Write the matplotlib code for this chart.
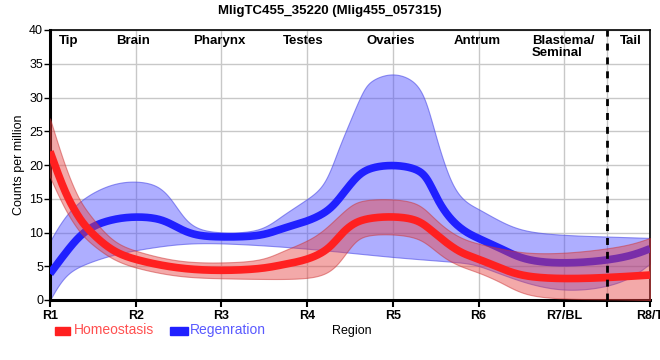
import numpy as np
import matplotlib.pyplot as plt
import matplotlib as mpl
from matplotlib.patches import Rectangle

mpl.rcParams['font.family'] = ['Liberation Sans', 'DejaVu Sans']

# region axis
regions = [1, 2, 3, 4, 5, 6, 7, 8]
tick_labels = ['R1', 'R2', 'R3', 'R4', 'R5', 'R6', 'R7/BL', 'R8/T']
part_names = ['Tip', 'Brain', 'Pharynx', 'Testes', 'Ovaries', 'Antrum', 'Blastema/\nSeminal', 'Tail']
part_pos = [1.22, 1.97, 2.98, 3.95, 4.98, 5.98, 6.62, 7.78]

# values (position along regions, counts per million)
homeo_x = [1, 1.175, 1.33, 1.45, 1.72, 2, 2.5, 3, 3.47, 3.7, 4, 4.25, 4.4, 4.56, 4.75, 5, 5.29, 5.45, 5.61, 5.8, 6, 6.27, 6.54, 7, 7.5, 8]
homeo = [22.0, 15.8, 12.3, 10.3, 7.2, 5.9, 4.6, 4.3, 4.6, 5.2, 5.9, 7.4, 9.9, 11.6, 12.2, 12.4, 12.0, 10.3, 8.6, 6.9, 6.1, 4.6, 3.4, 3.1, 3.3, 3.7]
homeo_hi_x = [1, 1.175, 1.33, 1.45, 1.72, 2, 2.5, 3, 3.47, 3.7, 4, 4.21, 4.48, 4.64, 5, 5.29, 5.45, 5.61, 5.8, 6, 6.27, 6.54, 7, 7.5, 7.8, 8]
homeo_hi = [26.9, 19.7, 15.0, 12.8, 8.6, 7.2, 5.6, 5.5, 5.8, 7.2, 8.7, 10.4, 13.9, 14.9, 15.0, 14.5, 12.5, 10.6, 9.1, 8.3, 7.6, 6.9, 6.9, 7.6, 8.3, 9.2]
homeo_lo_x = [1, 1.175, 1.33, 1.45, 1.72, 2, 2.5, 3, 3.5, 4, 4.25, 4.4, 4.56, 4.71, 5, 5.29, 5.45, 5.61, 5.8, 6, 6.27, 6.54, 7, 7.5, 8]
homeo_lo = [18.2, 13.3, 10.3, 8.6, 6.0, 4.7, 3.4, 3.2, 3.1, 3.1, 3.9, 5.9, 8.9, 9.7, 9.8, 9.3, 7.8, 6.1, 4.9, 4.1, 2.6, 0.6, 0.15, 0.1, 0.0]

regen_x = [1, 1.175, 1.41, 1.72, 2, 2.3, 2.5, 2.7, 3, 3.47, 3.7, 4, 4.25, 4.4, 4.56, 4.71, 5, 5.29, 5.41, 5.53, 5.68, 5.84, 6, 6.27, 6.54, 7, 7.5, 7.8, 8]
regen = [3.9, 6.9, 10.6, 12.0, 12.4, 12.1, 10.6, 9.5, 9.3, 9.4, 10.6, 11.6, 13.1, 15.4, 18.1, 19.6, 20.1, 19.5, 18.0, 14.5, 11.8, 10.1, 9.1, 7.6, 5.8, 5.35, 5.85, 6.6, 7.6]
regen_hi_x = [1, 1.175, 1.41, 1.72, 2, 2.26, 2.42, 2.57, 2.73, 3, 3.46, 3.69, 4, 4.21, 4.36, 4.5, 4.65, 4.75, 5, 5.26, 5.39, 5.51, 5.68, 5.84, 6, 6.27, 6.54, 7, 7.5, 8]
regen_hi = [8.7, 12.6, 15.4, 17.3, 17.7, 17.1, 14.9, 11.9, 10.4, 9.9, 10.1, 12.4, 14.9, 16.9, 22.3, 26.5, 31.1, 32.7, 33.8, 32.6, 29.6, 23.7, 17.0, 14.5, 13.5, 11.5, 10.1, 9.6, 9.4, 9.2]
regen_lo_x = [1, 1.175, 1.41, 1.72, 2, 2.5, 3, 4, 5, 5.8, 6, 6.5, 7, 7.5, 7.8, 8]
regen_lo = [0.0, 3.9, 5.4, 6.7, 7.4, 8.4, 8.5, 7.7, 6.3, 5.6, 5.2, 2.6, 1.2, 1.9, 3.4, 5.4]

grid = np.linspace(1, 8, 700)


def smooth(x, y):
    # cubic b-spline through the control points (like d3 curveBasis), on a common x grid
    px = np.concatenate([[x[0]] * 2, x, [x[-1]] * 2]).astype(float)
    py = np.concatenate([[y[0]] * 2, y, [y[-1]] * 2]).astype(float)
    t = np.linspace(0, 1, 30)[:, None]
    b0 = (1 - t) ** 3 / 6
    b1 = (3 * t**3 - 6 * t**2 + 4) / 6
    b2 = (-3 * t**3 + 3 * t**2 + 3 * t + 1) / 6
    b3 = t**3 / 6
    xs, ys = [], []
    for i in range(len(px) - 3):
        xs.append((b0 * px[i] + b1 * px[i + 1] + b2 * px[i + 2] + b3 * px[i + 3]).ravel())
        ys.append((b0 * py[i] + b1 * py[i + 1] + b2 * py[i + 2] + b3 * py[i + 3]).ravel())
    xs = np.concatenate(xs)
    ys = np.concatenate(ys)
    return np.interp(grid, xs, ys)


fig = plt.figure(figsize=(6.6, 3.6), dpi=100)
ax = fig.add_axes([50 / 660, 60 / 360, 600 / 660, 270 / 360])

red = '#ff2020'
blue = '#2020ff'

ax.fill_between(grid, smooth(regen_lo_x, regen_lo), smooth(regen_hi_x, regen_hi),
                facecolor=(0.3, 0.3, 1.0, 0.45), edgecolor=(0.3, 0.3, 0.9, 0.6), lw=0.8, zorder=2)
ax.plot(grid, smooth(regen_x, regen), color=blue, lw=5.5, solid_capstyle='butt', zorder=3)

ax.fill_between(grid, smooth(homeo_lo_x, homeo_lo), smooth(homeo_hi_x, homeo_hi),
                facecolor=(0.9, 0.25, 0.25, 0.45), edgecolor=(0.8, 0.2, 0.2, 0.5), lw=0.8, zorder=4)
ax.plot(grid, smooth(homeo_x, homeo), color=red, lw=5.5, solid_capstyle='butt', zorder=5)

ax.axvline(7.5, color='black', lw=2, ls=(0, (2.5, 2.5)), zorder=6)

ax.set_xlim(1, 8)
ax.set_ylim(0, 40)
ax.set_xticks(regions + [7.5])
ax.set_xticklabels(tick_labels + [''], fontweight='bold', fontsize=9)
ax.set_yticks(np.arange(0, 41, 5))
ax.tick_params(axis='y', labelsize=9, length=4, width=1, pad=1)
ax.tick_params(axis='x', length=5, width=1.5, pad=2)
ax.grid(True, color='#c8c8c8', lw=1, zorder=0)
ax.set_axisbelow(True)
for side in ['left', 'bottom']:
    ax.spines[side].set_linewidth(2.2)
for side in ['top', 'right']:
    ax.spines[side].set_linewidth(1.2)
ax.set_ylabel('Counts per million', fontsize=9, labelpad=3)

for name, p in zip(part_names, part_pos):
    ha = 'left' if '\n' in name else 'center'
    ax.text(p, 39.3, name, ha=ha, va='top', fontsize=9.5, fontweight='bold', linespacing=1.0, zorder=7)

fig.text(0.5, 0.985, 'MligTC455_35220 (Mlig455_057315)', ha='center', va='top', fontsize=9.5, fontweight='bold')

# legend row below the axes
fig.patches.append(Rectangle((55 / 660, 1 - 335 / 360), 15 / 660, 8 / 360, transform=fig.transFigure, color=red))
fig.text(74 / 660, 1 - 330 / 360, 'Homeostasis', color='#ff5050', fontsize=10, va='center')
fig.patches.append(Rectangle((170 / 660, 1 - 335 / 360), 18 / 660, 8 / 360, transform=fig.transFigure, color=blue))
fig.text(190 / 660, 1 - 330 / 360, 'Regenration', color='#5a5aff', fontsize=10, va='center')
fig.text(332 / 660, 1 - 331 / 360, 'Region', color='black', fontsize=9, va='center')

plt.savefig('out.png', dpi=100)
